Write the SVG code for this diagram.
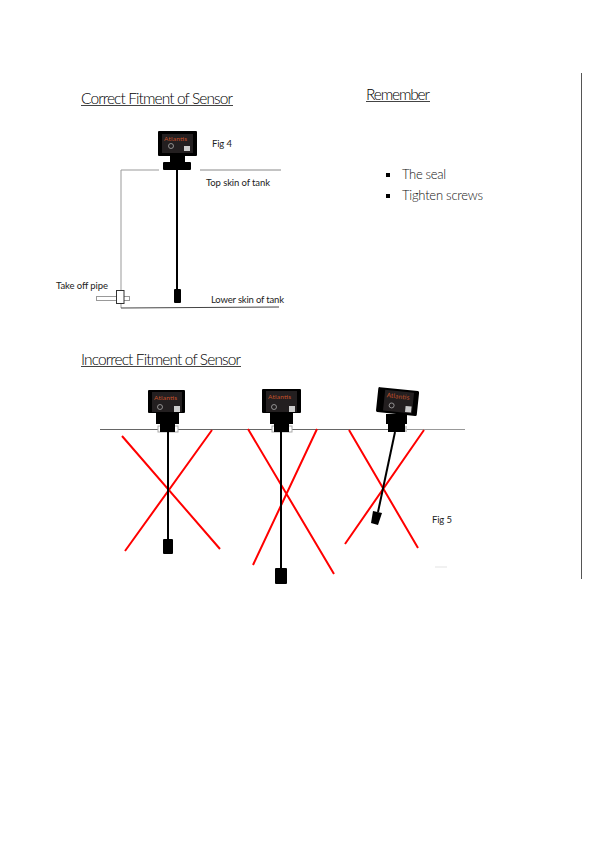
<svg xmlns="http://www.w3.org/2000/svg" width="597" height="841" viewBox="0 0 597 841">
<style>
text{font-family:"Lato","Open Sans","Liberation Sans",sans-serif;font-weight:300;fill:#111;font-size:12px}
.h{font-size:15.500px;fill:#000}
.s{font-size:9.500px;font-weight:400;fill:#222}
.b{font-size:13px}
.u{stroke:#444;stroke-width:1;fill:none}
.tank{stroke:#999;stroke-width:1;fill:none}
.x{stroke:#f00;stroke-width:2;fill:none}
.stem{stroke:#000;stroke-width:2;fill:none}
.blk{fill:#000}
.panel{fill:#231f20}
.qr{fill:#ccc}
.logo{font-size:6.500px;fill:#c8522a;font-weight:400}
.ic{stroke:#bbb;stroke-width:.7;fill:none}
.seat{fill:#fff;stroke:#aaa;stroke-width:1}
</style>
<rect width="597" height="841" fill="#fff"/>
<g id="heading-correct"><text class="h" x="81" y="104" textLength="152">Correct Fitment of Sensor</text><line class="u" x1="81" y1="105.500" x2="233" y2="105.500"/></g>
<g id="heading-remember"><text class="h" x="366" y="100" textLength="64">Remember</text><line class="u" x1="366" y1="101.500" x2="430" y2="101.500"/></g>
<g id="heading-incorrect"><text class="h" x="81" y="365" textLength="160">Incorrect Fitment of Sensor</text><line class="u" x1="81" y1="366.500" x2="241" y2="366.500"/></g>
<g id="remember-list">
<rect class="blk" x="386" y="173" width="4" height="4"/><text class="b" x="402" y="179" textLength="44">The seal</text>
<rect class="blk" x="386" y="194" width="4" height="4"/><text class="b" x="402" y="200" textLength="81">Tighten screws</text>
</g>
<g id="connectors">
<path class="tank" d="M159 170H121V308"/>
<path d="M200 170H281" stroke="#888" stroke-width="1" fill="none"/>
<path d="M121 308L279 307" stroke="#444" stroke-width="1" fill="none"/>
<line x1="581.500" y1="73" x2="581.500" y2="579" stroke="#555" stroke-width="1"/>
<path d="M100 429.500H388" stroke="#666" stroke-width="1" fill="none"/>
<path d="M405 429.500H465" stroke="#999" stroke-width="1" fill="none"/>
<path class="x" d="M122 436L220 549M212 430L125 551M248 429L334 574M317 429L253 565M349 430L418 548M424 430L345 544"/>
</g>
<g id="fig4-sensor">
<rect class="blk" x="158" y="131" width="39" height="25" rx="1"/>
<rect class="panel" x="162" y="134" width="31" height="19"/>
<text class="logo" x="164" y="140.500" textLength="23">Atlantis</text>
<circle class="ic" cx="171" cy="146" r="2.500"/>
<rect class="qr" x="184" y="146" width="6" height="5"/>
<rect class="blk" x="170" y="156" width="15" height="6"/>
<rect class="blk" x="163" y="162" width="28" height="8" rx="1"/>
<line class="stem" x1="177" y1="170" x2="177" y2="290"/>
<rect class="blk" x="174" y="289" width="7" height="14" rx="1"/>
</g>
<g id="take-off-pipe">
<rect x="96.500" y="296.500" width="33" height="4" fill="#fff" stroke="#999"/>
<rect x="116.500" y="290.500" width="7.500" height="13" fill="#fff" stroke="#333"/>
</g>
<g id="fig4-labels">
<text class="s" x="212" y="147" textLength="20">Fig 4</text>
<text class="s" x="206" y="186" textLength="64">Top skin of tank</text>
<text class="s" x="56" y="289" textLength="52">Take off pipe</text>
<text class="s" x="211" y="303" textLength="73">Lower skin of tank</text>
</g>
<g id="sensor-a">
<rect class="seat" x="158" y="426" width="20" height="6"/>
<rect class="blk" x="148" y="390" width="37" height="23" rx="1"/>
<rect class="panel" x="152" y="392" width="30" height="20"/>
<text class="logo" x="154" y="399.500" textLength="23">Atlantis</text>
<circle class="ic" cx="160" cy="407" r="2.500"/>
<rect class="qr" x="174" y="406" width="6" height="6"/>
<rect class="blk" x="156" y="413" width="23" height="11"/>
<rect class="blk" x="160" y="424" width="15" height="8"/>
<line class="stem" x1="168" y1="432" x2="168" y2="540"/>
<rect class="blk" x="163" y="539" width="10" height="15" rx="1"/>
</g>
<g id="sensor-b">
<rect class="seat" x="272" y="426" width="20" height="6"/>
<rect class="blk" x="262" y="389" width="39" height="24" rx="1"/>
<rect class="panel" x="266" y="391" width="31" height="21"/>
<text class="logo" x="268" y="398.500" textLength="23">Atlantis</text>
<circle class="ic" cx="274" cy="407" r="2.500"/>
<rect class="qr" x="289" y="406" width="6" height="6"/>
<rect class="blk" x="270" y="413" width="23" height="11"/>
<rect class="blk" x="274" y="424" width="15" height="8"/>
<line class="stem" x1="281" y1="432" x2="281" y2="569"/>
<rect class="blk" x="275" y="568" width="12" height="16" rx="1"/>
</g>
<g id="sensor-c">
<g transform="rotate(6 397 402)">
<rect class="blk" x="377" y="389" width="41" height="25" rx="1.500"/>
<rect class="panel" x="384" y="391" width="29" height="21"/>
<text class="logo" x="386" y="398.500" textLength="23">Atlantis</text>
<circle class="ic" cx="392" cy="406" r="2.500"/>
<rect class="qr" x="406" y="405" width="6" height="6"/>
</g>
<rect x="404" y="426" width="3" height="6" fill="#ccc"/>
<rect class="blk" x="386" y="414" width="21" height="10"/>
<rect class="blk" x="388" y="424" width="17" height="8"/>
<line class="stem" x1="395" y1="432" x2="378" y2="512"/>
<path class="blk" d="M373 511L382 513L378 525L371 523Z"/>
</g>
<g id="fig5-label"><text class="s" x="432" y="523" textLength="20">Fig 5</text></g>
<rect x="435" y="566.500" width="12" height="1" fill="#e4e4e4"/>
</svg>
